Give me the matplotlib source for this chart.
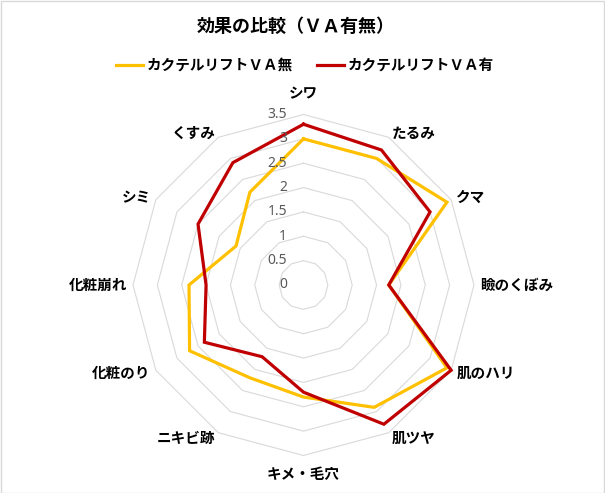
import numpy as np
import matplotlib
matplotlib.use("Agg")
import matplotlib.pyplot as plt
from matplotlib.patches import Rectangle

plt.rcParams['font.family'] = ['Noto Sans CJK JP', 'DejaVu Sans']

title = '効果の比較（ＶＡ有無）'
categories = ['シワ', 'たるみ', 'クマ', '瞼のくぼみ', '肌のハリ', '肌ツヤ',
              'キメ・毛穴', 'ニキビ跡', '化粧のり', '化粧崩れ', 'シミ', 'くすみ']
series_names = ['カクテルリフトＶＡ無', 'カクテルリフトＶＡ有']
va_none = [3.0, 3.0, 3.4, 1.75, 3.4, 2.9, 2.3, 2.2, 2.7, 2.35, 1.6, 2.2]
va_with = [3.3, 3.2, 3.0, 1.75, 3.5, 3.3, 2.2, 1.7, 2.35, 2.0, 2.5, 2.9]
tick_values = [0, 0.5, 1, 1.5, 2, 2.5, 3, 3.5]
tick_labels = ['0', '0.5', '1', '1.5', '2', '2.5', '3', '3.5']

W, H = 605, 493
fig = plt.figure(figsize=(W / 100, H / 100), dpi=100)
fig.patches.append(Rectangle((0.5 / W, 0.5 / H), 1 - 1.5 / W, 1 - 1.5 / H,
                             transform=fig.transFigure, fill=False,
                             edgecolor='#d9d9d9', linewidth=1))

cx, cy, R = 303.5, 285.0, 170.5
ax = fig.add_axes([(cx - R) / W, (H - cy - R) / H, 2 * R / W, 2 * R / H],
                  projection='polar')
ax.set_theta_offset(np.pi / 2)
ax.set_theta_direction(-1)
ax.set_ylim(0, 3.5)
ax.grid(False)
ax.spines['polar'].set_visible(False)
ax.set_xticks([])
ax.set_yticks([])
ax.patch.set_alpha(0)

n = len(categories)
angles = np.linspace(0, 2 * np.pi, n, endpoint=False)
closed = np.append(angles, angles[0])

# polygon gridlines
for v in tick_values[1:]:
    ax.plot(closed, [v] * (n + 1), color='#d9d9d9', linewidth=0.8,
            clip_on=False, zorder=1)

# series
ax.plot(closed, va_none + va_none[:1], color='#FFC000', linewidth=2.3,
        clip_on=False, zorder=3, label=series_names[0],
        solid_joinstyle='miter')
ax.plot(closed, va_with + va_with[:1], color='#C00000', linewidth=2.3,
        clip_on=False, zorder=4, label=series_names[1],
        solid_joinstyle='miter')

# radial tick labels
for v, t in zip(tick_values, tick_labels):
    ax.annotate(t, xy=(0, v), xytext=(-12, 0), textcoords='offset points',
                ha='right', va='center', fontsize=10, color='#595959',
                family=['Noto Sans', 'DejaVu Sans'], zorder=5)

# category labels
for a, lab in zip(angles, categories):
    deg = np.degrees(a) % 360
    if np.isclose(deg, 0):
        ax.text(a, 3.94, lab, ha='center', va='center', fontsize=10.5,
                fontweight='bold')
    elif np.isclose(deg, 180):
        ax.text(a, 3.88, lab, ha='center', va='center', fontsize=10.5,
                fontweight='bold')
    elif deg < 180:
        ax.text(a, 3.62, lab, ha='left', va='center', fontsize=10.5,
                fontweight='bold')
    else:
        ax.text(a, 3.62, lab, ha='right', va='center', fontsize=10.5,
                fontweight='bold')

fig.text(296 / W, 1 - 26 / H, title, ha='center', va='center',
         fontsize=13, fontweight='bold')

leg = fig.legend(loc='center', bbox_to_anchor=(305 / W, 1 - 65 / H), ncol=2,
                 frameon=False, handlelength=1.9, handletextpad=0.25,
                 columnspacing=1.6, prop={'size': 10.5, 'weight': 'bold'})

fig.savefig('out.png', dpi=100)
